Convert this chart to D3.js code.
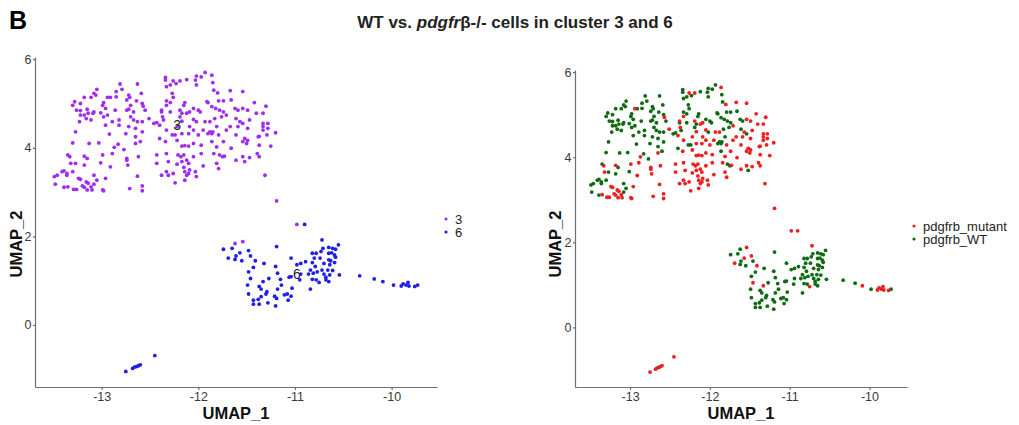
<!DOCTYPE html>
<html>
<head>
<meta charset="utf-8">
<title>WT vs. pdgfrb-/- cells in cluster 3 and 6</title>
<style>
  body { margin: 0; background: #fff; }
  svg { display: block; font-family: "Liberation Sans", Arial, sans-serif; }
  .axis path, .axis line { stroke: #6e6e6e; stroke-width: 1.2px; }
  .axis text { fill: #3a3a3a; font-size: 12.5px; }
  .axisTitle { font-size: 16.5px; font-weight: bold; fill: #111; }
  .legendText { font-size: 13px; fill: #222; }
</style>
<script src="https://d3js.org/d3.v7.min.js"></script>
</head>
<body>
<svg width="1019" height="425"></svg>
<script>
// UMAP coordinates, grouped by cluster and genotype
const c3_wt = [
  [-11.93,5.70],[-12.02,5.62],[-11.97,5.60],[-12.03,5.53],[-12.02,5.42],[-12.12,5.54],[-12.34,5.59],[-12.34,5.53],
  [-12.29,5.42],[-12.33,5.38],[-12.23,5.45],[-12.81,5.44],[-12.63,5.44],[-13.05,5.32],[-12.79,5.32],[-12.85,5.27],
  [-13.08,5.23],[-13.06,5.19],[-13.11,5.14],[-13.18,5.14],[-12.91,5.14],[-12.85,5.15],[-12.72,5.19],[-12.71,5.14],
  [-12.59,5.23],[-12.27,5.23],[-12.26,5.14],[-11.85,5.47],[-11.84,5.30],[-13.28,5.04],[-13.30,4.96],[-13.22,5.00],
  [-12.98,5.02],[-12.99,4.96],[-12.74,5.08],[-12.70,4.96],[-12.64,5.06],[-12.58,5.00],[-12.33,5.06],[-12.29,5.02],
  [-12.14,5.02],[-12.15,4.96],[-12.05,4.89],[-11.90,5.02],[-11.79,5.06],[-11.74,5.06],[-11.66,5.08],[-13.26,4.85],
  [-13.22,4.84],[-13.15,4.87],[-13.08,4.81],[-13.09,4.78],[-13.01,4.79],[-12.96,4.89],[-12.94,4.74],[-12.86,4.85],
  [-12.74,4.85],[-12.72,4.87],[-12.67,4.81],[-12.55,4.85],[-12.38,4.81],[-12.29,4.81],[-12.17,4.78],[-11.86,4.93],
  [-11.78,4.85],[-11.74,4.81],[-11.62,4.89],[-13.22,4.74],[-13.18,4.74],[-13.14,4.78],[-13.16,4.66],[-13.11,4.63],
  [-12.98,4.70],[-12.89,4.59],[-12.82,4.63],[-12.70,4.70],[-12.67,4.63],[-12.58,4.59],[-12.46,4.55],[-12.43,4.57],
  [-12.36,4.63],[-12.19,4.70],[-12.02,4.59],[-11.83,4.66],[-11.76,4.70],[-11.61,4.66],[-11.54,4.55],[-13.23,4.59],
  [-12.96,4.51],[-12.82,4.51],[-12.72,4.48],[-12.63,4.59],[-12.65,4.44],[-11.88,4.36],[-11.85,4.36],[-11.81,4.48],
  [-13.27,4.36],[-12.92,4.31],[-12.75,4.32],[-12.58,4.36],[-12.65,4.25],[-12.27,4.29],[-12.24,4.29],[-11.90,4.32],
  [-11.86,4.32],[-13.30,4.11],[-13.13,4.10],[-13.03,4.11],[-12.83,4.08],[-12.77,3.96],[-12.60,4.14],[-11.86,4.14],
  [-13.35,3.84],[-13.15,3.76],[-11.78,3.84],[-11.75,3.80],[-13.27,3.65],[-13.18,3.61],[-13.01,3.66],[-11.52,3.69],
  [-13.49,3.35],[-13.46,3.38],[-13.41,3.46],[-13.39,3.48],[-13.36,3.42],[-13.36,3.38],[-13.30,3.46],[-13.08,3.38],
  [-13.05,3.27],[-13.48,3.18],[-13.39,3.11],[-13.08,3.18],[-11.62,1.84],[-12.00,4.85],[-11.98,4.81],[-11.91,5.04],
  [-11.59,4.85],[-11.82,4.89],[-12.40,4.21]
];
const c3_mutant = [
  [-11.86,5.64],[-12.19,5.51],[-12.26,5.51],[-12.94,5.14],[-11.80,5.24],[-11.67,5.29],[-11.54,5.27],[-12.57,4.94],
  [-12.33,4.96],[-11.42,5.02],[-11.30,4.94],[-12.38,4.85],[-12.19,4.85],[-12.09,4.81],
  [-12.12,4.78],[-11.54,4.89],[-11.49,4.85],[-11.40,4.78],[-11.33,4.78],
  [-12.51,4.66],[-12.37,4.70],[-12.17,4.60],[-12.05,4.64],[-11.93,4.59],[-11.88,4.59],[-11.71,4.74],[-11.57,4.59],
  [-11.47,4.63],[-11.33,4.55],[-11.28,4.55],[-12.40,4.51],[-12.33,4.40],[-12.22,4.48],[-12.09,4.48],[-12.05,4.40],
  [-11.95,4.40],[-11.71,4.40],[-11.67,4.48],[-11.59,4.48],[-11.49,4.44],[-11.33,4.48],[-11.33,4.40],[-11.28,4.44],
  [-11.20,4.34],[-12.17,4.32],[-12.10,4.32],[-12.00,4.29],[-11.79,4.29],[-11.61,4.29],[-11.52,4.21],
  [-11.49,4.17],[-11.38,4.25],[-11.37,4.26],[-11.29,4.29],[-12.87,4.01],[-12.65,4.10],[-12.34,4.14],[-12.22,4.17],
  [-12.17,4.04],[-12.14,4.05],[-12.10,4.04],[-12.05,4.10],[-11.97,4.06],[-11.81,4.02],[-11.74,4.14],[-11.66,3.99],
  [-11.54,4.14],[-11.50,4.10],[-11.37,4.06],[-11.25,4.04],[-13.33,3.80],[-13.18,3.81],[-12.99,3.84],[-12.89,3.87],
  [-12.74,3.76],[-12.74,3.72],[-12.62,3.80],[-12.43,3.84],[-12.33,3.87],[-12.21,3.84],[-12.18,3.80],[-12.15,3.84],
  [-12.12,3.72],[-12.17,3.69],[-12.05,3.80],[-11.97,3.87],[-11.84,3.87],[-11.73,3.81],[-11.54,3.80],[-11.47,3.78],
  [-11.39,3.87],[-11.37,3.80],[-13.32,3.65],[-12.91,3.57],[-12.73,3.61],[-12.43,3.65],[-12.31,3.69],[-12.22,3.63],
  [-12.15,3.56],[-12.10,3.65],[-11.95,3.59],[-11.81,3.65],[-11.79,3.53],[-11.61,3.72],[-11.31,3.38],[-13.24,3.31],
  [-13.22,3.29],[-13.16,3.23],[-13.14,3.20],[-12.96,3.31],[-12.63,3.36],[-12.38,3.38],[-12.33,3.46],[-12.31,3.38],
  [-12.26,3.42],[-12.14,3.46],[-12.12,3.38],[-12.10,3.42],[-12.09,3.50],[-12.03,3.46],[-12.02,3.35],[-12.14,3.27],
  [-12.24,3.21],[-13.35,3.12],[-13.29,3.06],[-13.26,3.06],[-13.20,3.14],[-13.18,3.11],[-13.15,3.05],[-13.11,3.12],
  [-13.10,3.05],[-12.99,3.05],[-12.98,3.03],[-12.71,3.08],[-12.58,3.14],[-12.58,3.03],[-11.19,2.80],[-11.54,1.88],
  [-10.98,2.27]
];
const c6_wt = [
  [-11.19,1.77],[-11.74,1.71],[-11.65,1.73],[-11.61,1.56],[-11.62,1.48],[-11.55,1.45],[-11.46,1.56],[-11.32,1.39],
  [-11.43,1.30],[-11.48,1.20],[-11.20,1.32],[-11.18,1.17],[-11.27,1.05],[-11.49,0.90],[-11.37,0.87],[-11.35,0.81],
  [-11.29,0.75],[-11.30,0.70],[-11.35,0.64],[-11.38,0.58],[-11.43,0.56],[-11.43,0.47],[-11.48,0.70],[-11.37,0.47],
  [-11.28,0.50],[-11.20,0.43],[-11.21,0.65],[-11.19,0.60],[-11.18,0.81],[-11.14,0.90],[-11.15,1.03],[-11.11,0.68],
  [-11.08,0.70],[-11.07,0.56],[-11.04,0.65],[-11.03,0.83],[-11.06,1.08],[-11.04,1.09],[-11.04,1.51],[-10.98,1.36],
  [-10.94,1.39],[-10.89,1.43],[-10.94,1.15],[-10.95,1.02],[-10.84,0.81],[-10.86,1.15],[-10.82,1.62],[-10.78,1.62],
  [-10.80,1.51],[-10.82,1.41],[-10.79,1.32],[-10.84,1.24],[-10.81,1.17],[-10.77,1.20],[-10.82,1.03],[-10.78,1.02],
  [-10.71,1.73],[-10.73,1.66],[-10.74,1.51],[-10.70,1.39],[-10.72,1.24],[-10.70,1.15],[-10.68,1.08],[-10.65,0.98],
  [-10.68,1.02],[-10.65,1.75],[-10.65,1.62],[-10.62,1.63],[-10.61,1.73],[-10.58,1.71],[-10.55,1.81],[-10.59,1.58],
  [-10.58,1.53],[-10.65,1.47],[-10.63,1.45],[-10.64,1.36],[-10.59,1.41],[-10.66,1.24],[-10.61,1.23],[-10.64,1.13],
  [-10.54,1.13],[-10.33,1.11],[-10.18,1.04],[-9.98,0.90],[-9.73,0.90],[-12.64,-0.94]
];
const c6_mutant = [
  [-11.57,1.63],[-11.48,1.68],[-11.69,1.51],[-11.41,1.45],[-11.46,1.05],[-11.33,0.98],[-10.75,0.96],[-10.72,1.92],
  [-10.09,0.98],[-9.90,0.88],[-9.88,0.93],[-9.85,0.90],[-9.83,0.96],[-9.82,0.88],[-9.76,0.87],[-10.90,2.27],
  [-12.75,-1.05],[-12.68,-0.98],[-12.66,-0.95],[-12.62,-0.92],[-12.60,-0.90],[-12.45,-0.69]
];

const clusterNames = ["3", "6"];
const clusterLabelPos = [[-12.22, 4.51], [-10.98, 1.15]];
const genotypeNames = ["pdgfrb_mutant", "pdgfrb_WT"];
const xTicks = [-13, -12, -11, -10];
const yTicks = [0, 2, 4, 6];

const clusterColors = { "3": "#a02cf0", "6": "#1f1fe6" };
const genotypeColors = { "pdgfrb_mutant": "#ee1f1f", "pdgfrb_WT": "#0e6b12" };

const cells = [];
c3_wt.forEach(d => cells.push({ x: d[0], y: d[1], cluster: "3", geno: "pdgfrb_WT" }));
c3_mutant.forEach(d => cells.push({ x: d[0], y: d[1], cluster: "3", geno: "pdgfrb_mutant" }));
c6_wt.forEach(d => cells.push({ x: d[0], y: d[1], cluster: "6", geno: "pdgfrb_WT" }));
c6_mutant.forEach(d => cells.push({ x: d[0], y: d[1], cluster: "6", geno: "pdgfrb_mutant" }));

const svg = d3.select("svg");

svg.append("text").attr("x", 9).attr("y", 29)
  .style("font-size", "25px").style("font-weight", "bold").text("B");

const title = svg.append("text").attr("x", 515).attr("y", 28)
  .attr("text-anchor", "middle").style("font-size", "17px").style("font-weight", "bold").style("fill", "#222");
title.append("tspan").text("WT vs. ");
title.append("tspan").style("font-style", "italic").text("pdgfr");
title.append("tspan").text("\u03b2-/- cells in cluster 3 and 6");

const panels = [
  { left: 35, right: 437, top: 57, bottom: 387, colorBy: "cluster", colors: clusterColors, legend: clusterNames,
    legendX: 446, legendY: 219, yLabelX: 22 },
  { left: 575, right: 907, top: 70, bottom: 387, colorBy: "geno", colors: genotypeColors, legend: genotypeNames,
    legendX: 914, legendY: 226, yLabelX: 561 }
];

panels.forEach((p, pi) => {
  const x = d3.scaleLinear().domain([-13.69, -9.53]).range([p.left, p.right]);
  const y = d3.scaleLinear().domain([-1.4, 6.05]).range([p.bottom, p.top]);
  const g = svg.append("g");

  g.append("g").attr("class", "axis")
    .attr("transform", "translate(0," + p.bottom + ")")
    .call(d3.axisBottom(x).tickValues(xTicks).tickFormat(d => String(d))
      .tickSize(3).tickSizeOuter(0).tickPadding(2));
  g.append("g").attr("class", "axis")
    .attr("transform", "translate(" + p.left + ",0)")
    .call(d3.axisLeft(y).tickValues(yTicks).tickFormat(d => String(d))
      .tickSize(2).tickSizeOuter(0).tickPadding(1.5));

  g.selectAll("circle.cell")
    .data(cells)
    .enter()
    .append("circle")
    .attr("class", "cell")
    .attr("cx", d => x(d.x))
    .attr("cy", d => y(d.y))
    .attr("r", 1.9)
    .attr("fill", d => p.colors[d[p.colorBy]]);

  if (pi === 0) {
    g.selectAll("text.clab")
      .data(clusterNames)
      .enter()
      .append("text")
      .attr("class", "clab")
      .attr("x", (d, i) => x(clusterLabelPos[i][0]))
      .attr("y", (d, i) => y(clusterLabelPos[i][1]) + 5)
      .attr("text-anchor", "middle")
      .style("font-size", "14px")
      .style("fill", "#222")
      .text(d => d);
  }

  g.append("text").attr("class", "axisTitle")
    .attr("x", (p.left + p.right) / 2).attr("y", 419)
    .attr("text-anchor", "middle").text("UMAP_1");
  g.append("text").attr("class", "axisTitle")
    .attr("transform", "translate(" + p.yLabelX + "," + 244 + ") rotate(-90)")
    .attr("text-anchor", "middle").text("UMAP_2");

  const lg = g.append("g").attr("transform", "translate(" + p.legendX + "," + p.legendY + ")");
  p.legend.forEach((name, i) => {
    lg.append("circle").attr("cx", 0).attr("cy", i * 13).attr("r", 1.6).attr("fill", p.colors[name]);
    lg.append("text").attr("class", "legendText").attr("x", 9).attr("y", i * 13 + 4.5).text(name);
  });
});
</script>
</body>
</html>
